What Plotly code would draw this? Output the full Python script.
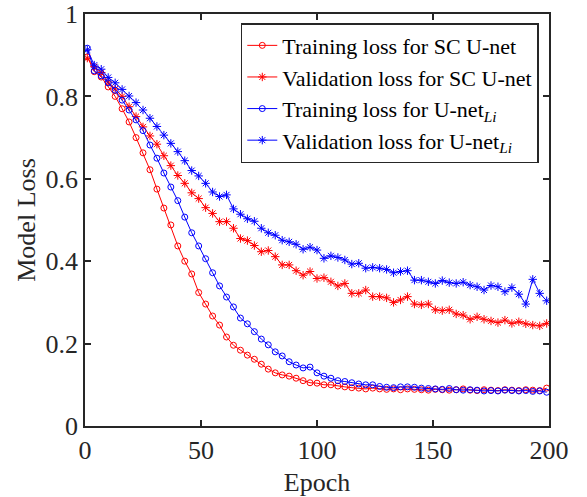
import plotly.graph_objects as go

epochs = list(range(1, 201, 3))

train_sc = [0.896, 0.86, 0.847, 0.823, 0.80, 0.77, 0.738, 0.70, 0.663, 0.622,
            0.575, 0.529, 0.488, 0.437, 0.40, 0.369, 0.324, 0.296, 0.267, 0.245,
            0.216, 0.196, 0.184, 0.172, 0.162, 0.15, 0.138, 0.129, 0.124, 0.121,
            0.116, 0.11, 0.105, 0.104, 0.1, 0.1, 0.097, 0.095, 0.093, 0.092,
            0.09, 0.092, 0.09, 0.089, 0.09, 0.088, 0.09, 0.089, 0.088, 0.087,
            0.089, 0.088, 0.087, 0.088, 0.09, 0.087, 0.086, 0.088, 0.087, 0.086,
            0.088, 0.087, 0.086, 0.088, 0.087, 0.086, 0.092]

val_sc = [0.893, 0.872, 0.858, 0.835, 0.818, 0.80, 0.775, 0.751, 0.726, 0.704,
          0.684, 0.656, 0.632, 0.608, 0.589, 0.566, 0.552, 0.53, 0.516, 0.496,
          0.496, 0.48, 0.455, 0.45, 0.438, 0.423, 0.426, 0.411, 0.391, 0.391,
          0.377, 0.366, 0.375, 0.358, 0.36, 0.35, 0.34, 0.346, 0.322, 0.322,
          0.33, 0.314, 0.314, 0.311, 0.30, 0.306, 0.314, 0.296, 0.294, 0.296,
          0.282, 0.28, 0.282, 0.272, 0.269, 0.259, 0.265, 0.259, 0.255, 0.251,
          0.257, 0.249, 0.253, 0.248, 0.245, 0.243, 0.249]

train_li = [0.917, 0.862, 0.85, 0.833, 0.815, 0.791, 0.767, 0.743, 0.717, 0.682,
            0.65, 0.614, 0.58, 0.547, 0.507, 0.469, 0.437, 0.406, 0.372, 0.34,
            0.313, 0.289, 0.262, 0.248, 0.229, 0.211, 0.197, 0.18, 0.17, 0.156,
            0.148, 0.141, 0.143, 0.129, 0.121, 0.116, 0.11, 0.108, 0.105, 0.102,
            0.1, 0.1, 0.096, 0.094, 0.093, 0.095, 0.095, 0.094, 0.092, 0.091,
            0.09, 0.089, 0.091, 0.088, 0.087, 0.088, 0.087, 0.085, 0.086, 0.085,
            0.087, 0.086, 0.085, 0.086, 0.084, 0.085, 0.082]

val_li = [0.913, 0.876, 0.866, 0.846, 0.833, 0.817, 0.801, 0.785, 0.767, 0.747,
          0.727, 0.706, 0.686, 0.666, 0.644, 0.62, 0.607, 0.589, 0.568, 0.557,
          0.561, 0.527, 0.514, 0.503, 0.497, 0.48, 0.469, 0.463, 0.451, 0.447,
          0.441, 0.429, 0.434, 0.427, 0.407, 0.413, 0.409, 0.403, 0.393, 0.395,
          0.383, 0.385, 0.383, 0.38, 0.372, 0.375, 0.377, 0.354, 0.354, 0.35,
          0.346, 0.353, 0.348, 0.346, 0.349, 0.342, 0.338, 0.33, 0.341, 0.338,
          0.326, 0.336, 0.32, 0.296, 0.356, 0.322, 0.304]

names = ["Training loss for SC U-net",
         "Validation loss for SC U-net",
         "Training loss for U-net<sub><i>Li</i></sub>",
         "Validation loss for U-net<sub><i>Li</i></sub>"]

RED = "#FF0000"
BLUE = "#0000FF"
AX = "#262626"
FONT = "Liberation Serif"

fig = go.Figure()
series = [
    (train_sc, names[0], RED, "circle-open", 6),
    (val_sc, names[1], RED, "asterisk-open", 7),
    (train_li, names[2], BLUE, "circle-open", 6),
    (val_li, names[3], BLUE, "asterisk-open", 7),
]
for ys, nm, col, sym, sz in series:
    fig.add_trace(go.Scatter(
        x=epochs, y=ys, name=nm, mode="lines+markers",
        line=dict(color=col, width=1),
        marker=dict(symbol=sym, size=sz, color=col, line=dict(color=col, width=1)),
    ))

axis_common = dict(
    showline=True, linecolor=AX, linewidth=1.5, mirror="ticks",
    ticks="inside", ticklen=6, tickwidth=1.5, tickcolor=AX,
    showgrid=False, zeroline=False, automargin=False,
    tickfont=dict(family=FONT, size=26, color=AX),
)

fig.update_layout(
    width=587, height=497,
    margin=dict(l=85, r=38, t=14, b=71),
    paper_bgcolor="white", plot_bgcolor="white",
    font=dict(family=FONT, color=AX),
    xaxis=dict(range=[0, 200], tickvals=[0, 50, 100, 150, 200],
               title=dict(text="Epoch", font=dict(family=FONT, size=26, color=AX)),
               **axis_common),
    yaxis=dict(range=[0, 1], tickvals=[0, 0.2, 0.4, 0.6, 0.8, 1],
               ticktext=["0", "0.2", "0.4", "0.6", "0.8", "1"],
               title=dict(text="Model Loss", font=dict(family=FONT, size=26, color=AX),
                          standoff=2),
               **axis_common),
    legend=dict(x=0.978, y=0.978, xanchor="right", yanchor="top",
                bgcolor="white", bordercolor=AX, borderwidth=1.5,
                font=dict(family=FONT, size=22, color="black"),
                tracegroupgap=0, itemwidth=30),
    showlegend=True,
)

fig.write_html("out.html", config={"displayModeBar": False},
               post_script="document.body.style.margin='0';document.body.style.overflow='hidden';")
